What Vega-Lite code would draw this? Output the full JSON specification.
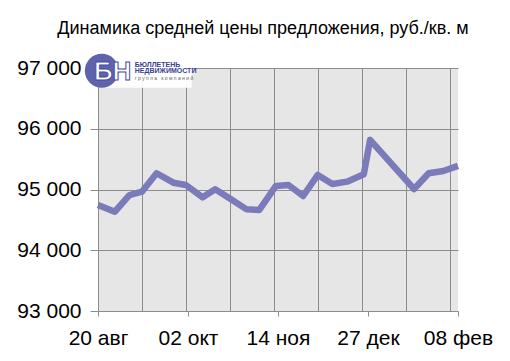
{
  "$schema": "https://vega.github.io/schema/vega-lite/v6.json",
  "width": 360,
  "height": 243,
  "autosize": "none",
  "padding": {"left": 98, "top": 68, "right": 52, "bottom": 50},
  "background": "#ffffff",
  "title": {
    "text": "Динамика средней цены предложения, руб./кв. м",
    "font": "Liberation Sans",
    "fontSize": 18,
    "fontWeight": "normal",
    "color": "#000000",
    "anchor": "middle",
    "dx": -15,
    "offset": 16
  },
  "config": {
    "view": {"stroke": null, "fill": "#e6e6e6"},
    "font": "Liberation Sans"
  },
  "layer": [
    {
      "data": {
        "values": [
          {"date": "2012-08-20", "price": 94744},
          {"date": "2012-08-28", "price": 94634},
          {"date": "2012-09-04", "price": 94909},
          {"date": "2012-09-10", "price": 94964},
          {"date": "2012-09-17", "price": 95267},
          {"date": "2012-09-25", "price": 95112},
          {"date": "2012-10-01", "price": 95074},
          {"date": "2012-10-09", "price": 94871},
          {"date": "2012-10-15", "price": 95003},
          {"date": "2012-10-22", "price": 94853},
          {"date": "2012-10-30", "price": 94673},
          {"date": "2012-11-05", "price": 94662},
          {"date": "2012-11-13", "price": 95058},
          {"date": "2012-11-19", "price": 95074},
          {"date": "2012-11-26", "price": 94893},
          {"date": "2012-12-03", "price": 95239},
          {"date": "2012-12-10", "price": 95091},
          {"date": "2012-12-17", "price": 95129},
          {"date": "2012-12-25", "price": 95251},
          {"date": "2012-12-28", "price": 95817},
          {"date": "2013-01-18", "price": 95008},
          {"date": "2013-01-25", "price": 95267},
          {"date": "2013-02-01", "price": 95305},
          {"date": "2013-02-08", "price": 95388}
        ],
        "format": {"parse": {"date": "utc:'%Y-%m-%d'"}}
      },
      "mark": {"type": "line", "color": "#7b7bbb", "strokeWidth": 6.5, "strokeJoin": "round", "strokeCap": "butt"},
      "encoding": {
        "x": {
          "field": "date",
          "type": "temporal",
          "scale": {
            "type": "utc",
            "domain": [
              {"year": 2012, "month": 8, "date": 20, "utc": true},
              {"year": 2013, "month": 2, "date": 8, "utc": true}
            ]
          },
          "axis": {
            "title": null,
            "tickCount": 60,
            "values": [
              {"year": 2012, "month": 8, "date": 20, "utc": true},
              {"year": 2012, "month": 9, "date": 10, "utc": true},
              {"year": 2012, "month": 10, "date": 1, "utc": true},
              {"year": 2012, "month": 10, "date": 2, "utc": true},
              {"year": 2012, "month": 10, "date": 22, "utc": true},
              {"year": 2012, "month": 11, "date": 12, "utc": true},
              {"year": 2012, "month": 11, "date": 14, "utc": true},
              {"year": 2012, "month": 12, "date": 3, "utc": true},
              {"year": 2012, "month": 12, "date": 24, "utc": true},
              {"year": 2012, "month": 12, "date": 27, "utc": true},
              {"year": 2013, "month": 1, "date": 14, "utc": true},
              {"year": 2013, "month": 2, "date": 4, "utc": true},
              {"year": 2013, "month": 2, "date": 8, "utc": true}
            ],
            "labelExpr": "(utcday(datum.value) != 1 || utcdate(datum.value) == 20) ? (utcFormat(datum.value, '%d') + ' ' + ['янв','фев','мар','апр','май','июн','июл','авг','сен','окт','ноя','дек'][utcmonth(datum.value)]) : ''",
            "labelOverlap": false,
            "labelFlush": false,
            "labelBound": false,
            "labelFont": "Liberation Sans",
            "labelFontSize": 21,
            "labelColor": "#000000",
            "labelPadding": 11,
            "domain": false,
            "grid": true,
            "gridColor": "#8c8c8c",
            "gridWidth": 1,
            "gridOpacity": {"condition": {"test": "utcday(datum.value) == 1", "value": 1}, "value": 0},
            "ticks": true,
            "tickSize": 5,
            "tickColor": "#8c8c8c",
            "tickOpacity": {"condition": {"test": "utcday(datum.value) != 1 || utcdate(datum.value) == 20", "value": 1}, "value": 0}
          }
        },
        "y": {
          "field": "price",
          "type": "quantitative",
          "scale": {"domain": [93000, 97000], "nice": false, "zero": false},
          "axis": {
            "title": null,
            "tickCount": 20,
            "values": [93000, 94000, 95000, 96000, 97000],
            "labelExpr": "replace(format(datum.value, ','), ',', ' ')",
            "labelFont": "Liberation Sans",
            "labelFontSize": 21,
            "labelColor": "#000000",
            "labelPadding": 9,
            "domain": false,
            "grid": true,
            "gridColor": "#8c8c8c",
            "gridWidth": 1,
            "tickSize": 8,
            "tickColor": "#8c8c8c"
          }
        }
      }
    },
    {
      "data": {"values": [{}]},
      "mark": {"type": "rect", "fill": "#ffffff", "opacity": 0.95},
      "encoding": {
        "x": {"datum": {"year": 2012, "month": 8, "date": 22, "utc": true}, "type": "temporal"},
        "x2": {"datum": {"year": 2012, "month": 10, "date": 3, "hours": 18, "utc": true}},
        "y": {"datum": 97200, "type": "quantitative"},
        "y2": {"datum": 96675}
      }
    },
    {
      "data": {"values": [{}]},
      "mark": {"type": "point", "shape": "circle", "filled": true, "fill": "#5f63ad", "opacity": 1, "size": 1150},
      "encoding": {
        "x": {"datum": {"year": 2012, "month": 8, "date": 21, "hours": 19, "utc": true}, "type": "temporal"},
        "y": {"datum": 96955, "type": "quantitative"}
      }
    },
    {
      "data": {"values": [{}]},
      "mark": {"type": "text", "text": "БН", "font": "Liberation Sans", "fontSize": 26, "fontWeight": "bold", "fill": "#ffffff", "stroke": "#474c9c", "strokeWidth": 1, "align": "center", "baseline": "middle"},
      "encoding": {
        "x": {"datum": {"year": 2012, "month": 8, "date": 27, "utc": true}, "type": "temporal"},
        "y": {"datum": 96931, "type": "quantitative"}
      }
    },
    {
      "data": {"values": [{}]},
      "mark": {"type": "text", "text": "БЮЛЛЕТЕНЬ", "font": "Liberation Sans", "fontSize": 7, "fontWeight": "bold", "fill": "#3a3e8e", "align": "left", "baseline": "middle"},
      "encoding": {
        "x": {"datum": {"year": 2012, "month": 9, "date": 6, "hours": 14, "utc": true}, "type": "temporal"},
        "y": {"datum": 97046, "type": "quantitative"}
      }
    },
    {
      "data": {"values": [{}]},
      "mark": {"type": "text", "text": "НЕДВИЖИМОСТИ", "font": "Liberation Sans", "fontSize": 7, "fontWeight": "bold", "fill": "#3a3e8e", "align": "left", "baseline": "middle"},
      "encoding": {
        "x": {"datum": {"year": 2012, "month": 9, "date": 6, "hours": 14, "utc": true}, "type": "temporal"},
        "y": {"datum": 96947, "type": "quantitative"}
      }
    },
    {
      "data": {"values": [{}]},
      "mark": {"type": "text", "text": "г р у п п а\u00a0\u00a0 к о м п а н и й", "font": "Liberation Sans", "fontSize": 5, "fill": "#666666", "align": "left", "baseline": "middle"},
      "encoding": {
        "x": {"datum": {"year": 2012, "month": 9, "date": 6, "hours": 14, "utc": true}, "type": "temporal"},
        "y": {"datum": 96832, "type": "quantitative"}
      }
    }
  ]
}
